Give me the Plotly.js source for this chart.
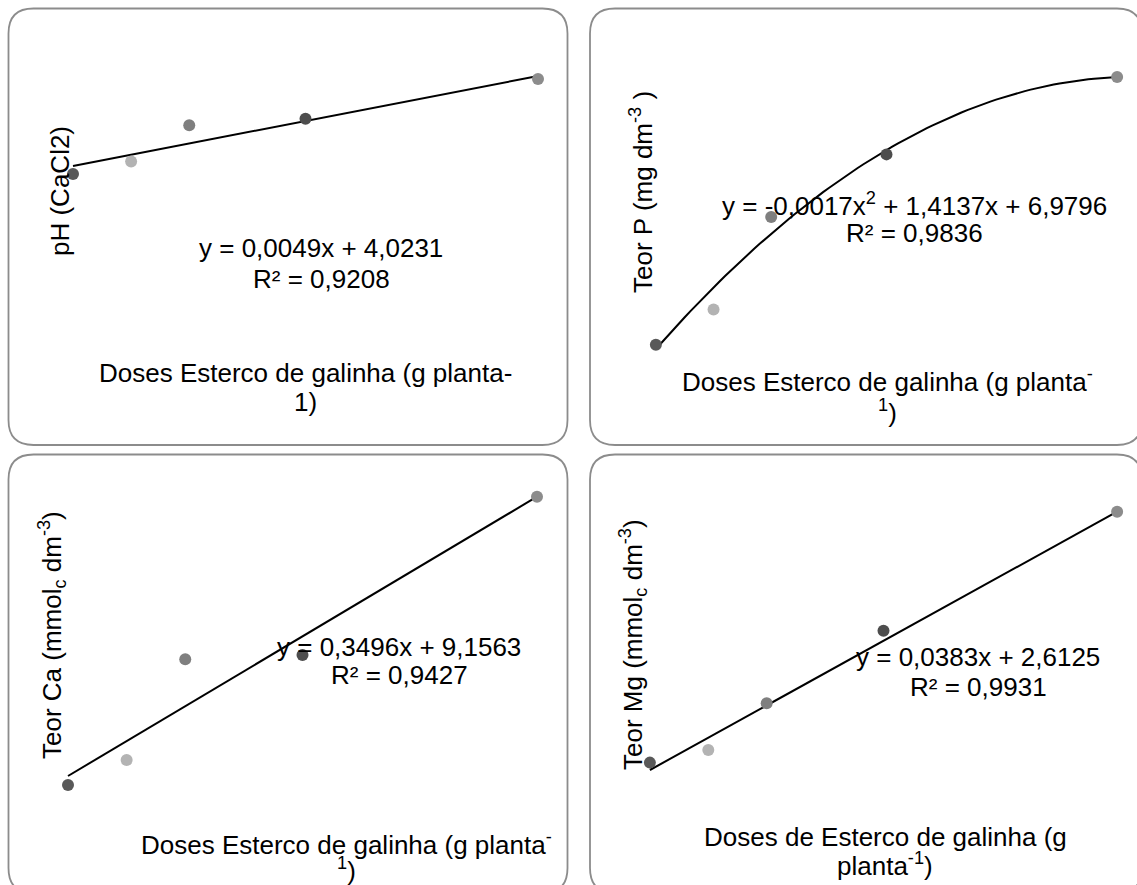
<!DOCTYPE html>
<html>
<head>
<meta charset="utf-8">
<script src="https://cdn.plot.ly/plotly-3.0.1.min.js"></script>
<style>html,body{margin:0;padding:0;background:#fff;}#chart{width:1137px;height:885px;}</style>
</head>
<body>
<div id="chart"></div>
<script>
// ---- data ----
const doses = [0, 50, 100, 200, 400];
const pointColors = ['#595959', '#b3b3b3', '#7f7f7f', '#4d4d4d', '#8c8c8c'];
const ph = [3.85, 4.12, 4.91, 5.05, 5.92];
const teorP = [11.5, 49.6, 149.3, 217, 300.5];
const teorCa = [4.66, 17.2, 67.6, 69.7, 149.0];
const teorMg = [3.05, 3.80, 6.57, 10.87, 17.93];
// trendline coefficients (c0 + c1 x + c2 x^2)
const phFit = [4.0231, 0.0049];
const pFit = [6.9796, 1.4137, -0.0017];
const caFit = [9.1563, 0.3496];
const mgFit = [2.6125, 0.0383];
// texts
const yTitles = ['pH (CaCl2)', 'Teor P (mg dm<sup>-3</sup> )', 'Teor Ca (mmol<sub>c</sub> dm<sup>-3</sup>)', 'Teor Mg (mmol<sub>c</sub> dm<sup>-3</sup>)'];
const xTitles = [
  ['Doses Esterco de galinha (g planta-', '1)'],
  ['Doses Esterco de galinha (g planta<sup>-</sup>', '<sup>1</sup>)'],
  ['Doses Esterco de galinha (g planta<sup>-</sup>', '<sup>1</sup>)'],
  ['Doses de Esterco de galinha (g', 'planta<sup>-1</sup>)']
];
const eqTexts = [
  ['y = 0,0049x + 4,0231', 'R² = 0,9208'],
  ['y = -0,0017x<sup>2</sup> + 1,4137x + 6,9796', 'R² = 0,9836'],
  ['y = 0,3496x + 9,1563', 'R² = 0,9427'],
  ['y = 0,0383x + 2,6125', 'R² = 0,9931']
];

// ---- layout geometry (pixels) ----
const W = 1137, H = 885;
const panels = [
  {data: ph, fit: phFit, xPx: [73, 538], yCal: [[166, 4.0231], [76, 5.9831]], box: [8.5, 8.5, 567.5, 445],
   yT: [60, 191], eq: [321, 248, 279], xT: [305, 373, 402]},
  {data: teorP, fit: pFit, xPx: [656, 1120], yCal: [[349, 6.9796], [77, 300.5]], box: [590, 8.5, 1142, 445],
   yT: [641, 192], eq: [914, 204, 233], xT: [887, 380, 411]},
  {data: teorCa, fit: caFit, xPx: [68, 537], yCal: [[776, 9.1563], [496.7, 149.0]], box: [8.5, 454.5, 567.5, 893],
   yT: [52, 635], eq: [399, 647, 675], xT: [347, 843, 869]},
  {data: teorMg, fit: mgFit, xPx: [650, 1120], yCal: [[770, 2.6125], [511.7, 17.93]], box: [590, 454.5, 1142, 893],
   yT: [633, 645], eq: [978, 657, 687], xT: [885, 837, 864]}
];

function evalPoly(c, x) { let s = 0; for (let i = c.length - 1; i >= 0; i--) s = s * x + c[i]; return s; }
const fx = px => px / W;
const fy = py => 1 - py / H;
const FS = 26;

const traces = [];
const layout = {
  width: W, height: H, margin: {l: 0, r: 0, t: 0, b: 0},
  paper_bgcolor: '#ffffff', plot_bgcolor: 'rgba(0,0,0,0)',
  showlegend: false, shapes: [], annotations: [],
  font: {family: 'Arial, "Liberation Sans", sans-serif', color: '#000000', size: FS}
};

panels.forEach((p, i) => {
  const n = i + 1;
  const xa = 'xaxis' + (n === 1 ? '' : n), ya = 'yaxis' + (n === 1 ? '' : n);
  const xr = 'x' + (n === 1 ? '' : n), yr = 'y' + (n === 1 ? '' : n);
  const pad = 20;
  const xs = 400 / (p.xPx[1] - p.xPx[0]);
  const xLo = p.xPx[0] - pad, xHi = p.xPx[1] + pad;
  layout[xa] = {domain: [fx(xLo), fx(xHi)], range: [(xLo - p.xPx[0]) * xs, (xHi - p.xPx[0]) * xs],
    visible: false, showgrid: false, zeroline: false, anchor: yr};
  const [[pyA, vA], [pyB, vB]] = p.yCal;
  const ys = (vB - vA) / (pyB - pyA);
  const yTop = pyB - pad, yBot = pyA + pad;
  layout[ya] = {domain: [fy(yBot), fy(yTop)], range: [vA + (yBot - pyA) * ys, vA + (yTop - pyA) * ys],
    visible: false, showgrid: false, zeroline: false, anchor: xr};

  const fitX = [], fitY = [];
  for (let x = 0; x <= 400; x += 5) { fitX.push(x); fitY.push(evalPoly(p.fit, x)); }
  traces.push({x: fitX, y: fitY, xaxis: xr, yaxis: yr, mode: 'lines', type: 'scatter',
    line: {color: '#000000', width: 2}, hoverinfo: 'skip'});
  traces.push({x: doses, y: p.data, xaxis: xr, yaxis: yr, mode: 'markers', type: 'scatter', cliponaxis: false,
    marker: {color: pointColors, size: 12, line: {width: 0}}});

  const [x0, y0, x1, y1] = p.box, r = 25;
  const path = `M ${fx(x0 + r)} ${fy(y0)} L ${fx(x1 - r)} ${fy(y0)} Q ${fx(x1)} ${fy(y0)} ${fx(x1)} ${fy(y0 + r)} ` +
    `L ${fx(x1)} ${fy(y1 - r)} Q ${fx(x1)} ${fy(y1)} ${fx(x1 - r)} ${fy(y1)} L ${fx(x0 + r)} ${fy(y1)} ` +
    `Q ${fx(x0)} ${fy(y1)} ${fx(x0)} ${fy(y1 - r)} L ${fx(x0)} ${fy(y0 + r)} Q ${fx(x0)} ${fy(y0)} ${fx(x0 + r)} ${fy(y0)} Z`;
  layout.shapes.push({type: 'path', xref: 'paper', yref: 'paper', path: path, line: {color: '#8c8c8c', width: 1.8}, layer: 'below'});

  const ann = (txt, cx, cy, extra) => Object.assign({text: txt, xref: 'paper', yref: 'paper', x: fx(cx), y: fy(cy),
    xanchor: 'center', yanchor: 'middle', showarrow: false, align: 'center', font: {size: FS}}, extra || {});
  layout.annotations.push(ann(yTitles[i], p.yT[0], p.yT[1], {textangle: -90}));
  layout.annotations.push(ann(eqTexts[i][0], p.eq[0], p.eq[1]));
  layout.annotations.push(ann(eqTexts[i][1], p.eq[0], p.eq[2]));
  layout.annotations.push(ann(xTitles[i][0], p.xT[0], p.xT[1]));
  layout.annotations.push(ann(xTitles[i][1], p.xT[0], p.xT[2]));
});

Plotly.newPlot('chart', traces, layout, {displayModeBar: false, staticPlot: true});
</script>
</body>
</html>
